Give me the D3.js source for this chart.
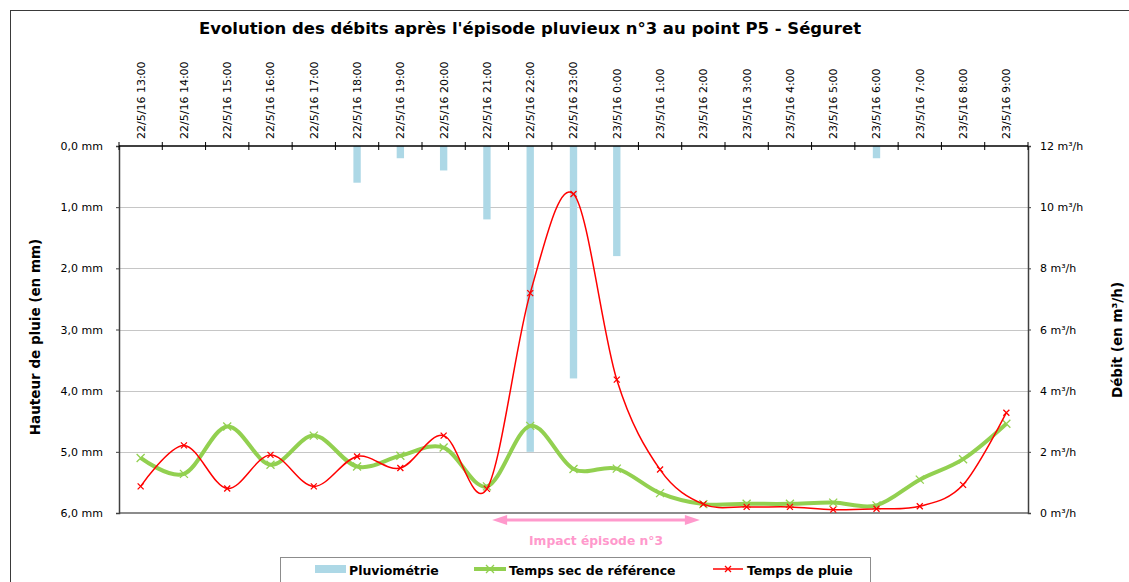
<!DOCTYPE html>
<html>
<head>
<meta charset="utf-8">
<script src="https://cdn.jsdelivr.net/npm/d3@7"></script>
<style>
  html, body { margin: 0; padding: 0; background: #fff; }
  svg { display: block; font-family: "DejaVu Sans", Verdana, sans-serif; }
</style>
</head>
<body>
<svg id="chart" width="1129" height="582"></svg>
<script>
// Hourly timestamps (22/5/16 13:00 -> 23/5/16 9:00)
const categories = [
  "22/5/16 13:00", "22/5/16 14:00", "22/5/16 15:00", "22/5/16 16:00", "22/5/16 17:00",
  "22/5/16 18:00", "22/5/16 19:00", "22/5/16 20:00", "22/5/16 21:00", "22/5/16 22:00",
  "22/5/16 23:00", "23/5/16 0:00", "23/5/16 1:00", "23/5/16 2:00", "23/5/16 3:00",
  "23/5/16 4:00", "23/5/16 5:00", "23/5/16 6:00", "23/5/16 7:00", "23/5/16 8:00",
  "23/5/16 9:00"
];
// Rainfall per hour (mm)
const pluviometrie = [0, 0, 0, 0, 0, 0.6, 0.2, 0.4, 1.2, 5.0, 3.8, 1.8, 0, 0, 0, 0, 0, 0.2, 0, 0, 0];
// Dry-weather reference flow (m³/h)
const tempsSec = [1.80, 1.28, 2.83, 1.58, 2.53, 1.52, 1.87, 2.14, 0.87, 2.85, 1.44, 1.45, 0.65, 0.29, 0.30, 0.30, 0.34, 0.25, 1.09, 1.76, 2.92];
// Wet-weather flow (m³/h)
const tempsPluie = [0.87, 2.21, 0.80, 1.90, 0.87, 1.85, 1.47, 2.53, 0.79, 7.19, 10.43, 4.36, 1.42, 0.29, 0.20, 0.20, 0.11, 0.14, 0.22, 0.92, 3.28];
// Axis ticks
const rainTicks = [0, 1, 2, 3, 4, 5, 6];
const flowTicks = [0, 2, 4, 6, 8, 10, 12];

const svg = d3.select("#chart");
const plotLeft = 119, plotRight = 1028, plotTop = 146, plotBottom = 513;

// Outer chart frame
svg.append("rect")
  .attr("x", 10.5).attr("y", 10.5).attr("width", 1140).attr("height", 600)
  .attr("fill", "#fff").attr("stroke", "#3a3a3a").attr("stroke-width", 1);

const x = d3.scaleBand().domain(categories).range([plotLeft, plotRight]).padding(0);
const cx = d => x(d) + x.bandwidth() / 2;
const yRain = d3.scaleLinear().domain([0, 6]).range([plotTop, plotBottom]);
const yFlow = d3.scaleLinear().domain([0, 12]).range([plotBottom, plotTop]);

// Title
svg.append("text")
  .attr("x", 530).attr("y", 34)
  .attr("text-anchor", "middle")
  .attr("font-weight", "bold").attr("font-size", 16.5)
  .attr("textLength", 662).attr("lengthAdjust", "spacingAndGlyphs")
  .text("Evolution des débits après l'épisode pluvieux n°3 au point P5 - Séguret");

// Horizontal gridlines
svg.append("g").selectAll("line")
  .data(rainTicks.filter(t => t > 0 && t < 6))
  .join("line")
  .attr("x1", plotLeft).attr("x2", plotRight)
  .attr("y1", d => Math.round(yRain(d)) + 0.5).attr("y2", d => Math.round(yRain(d)) + 0.5)
  .attr("stroke", "#c6c6c6").attr("stroke-width", 1);

// Rainfall bars hanging from the top axis
const barW = x.bandwidth() * 0.17;
svg.append("g").selectAll("rect")
  .data(categories.map((c, i) => ({ c, v: pluviometrie[i] })).filter(d => d.v > 0))
  .join("rect")
  .attr("x", d => cx(d.c) - barW / 2)
  .attr("y", yRain(0))
  .attr("width", barW)
  .attr("height", d => yRain(d.v) - yRain(0))
  .attr("fill", "#add8e6");

// Bottom baseline
svg.append("line")
  .attr("x1", plotLeft).attr("x2", plotRight).attr("y1", plotBottom).attr("y2", plotBottom)
  .attr("stroke", "#8c8c8c").attr("stroke-width", 2);

// Left axis (rain, reversed)
const axL = svg.append("g").attr("transform", `translate(${plotLeft},0)`)
  .call(d3.axisLeft(yRain).tickValues(rainTicks).tickSize(3).tickPadding(13)
    .tickFormat(d => d.toFixed(1).replace(".", ",") + " mm"));
axL.select(".domain").attr("stroke", "#404040").attr("stroke-width", 1.5);
axL.selectAll(".tick line").attr("stroke", "#404040");
axL.selectAll("text").attr("font-size", 11).attr("fill", "#000").attr("font-family", "DejaVu Sans");

// Right axis (flow)
const axR = svg.append("g").attr("transform", `translate(${plotRight},0)`)
  .call(d3.axisRight(yFlow).tickValues(flowTicks).tickSize(3).tickPadding(9)
    .tickFormat(d => d + " m³/h"));
axR.select(".domain").attr("stroke", "#404040").attr("stroke-width", 1.5);
axR.selectAll(".tick line").attr("stroke", "#404040");
axR.selectAll("text").attr("font-size", 11).attr("fill", "#000").attr("font-family", "DejaVu Sans");

// Top category axis: labels at band centres, ticks at band boundaries
const axT = svg.append("g").attr("transform", `translate(0,${plotTop})`)
  .call(d3.axisTop(x).tickSize(0).tickPadding(0));
axT.select(".domain").remove();
axT.selectAll("text")
  .attr("transform", "rotate(-90)")
  .attr("x", 7).attr("y", 0).attr("dy", "0.36em")
  .attr("text-anchor", "start")
  .attr("font-size", 11).attr("fill", "#000").attr("font-family", "DejaVu Sans");
svg.append("line")
  .attr("x1", plotLeft).attr("x2", plotRight).attr("y1", plotTop).attr("y2", plotTop)
  .attr("stroke", "#000").attr("stroke-width", 1.5);
const boundaries = categories.map(c => x(c)).concat([plotRight]);
svg.append("g").selectAll("line")
  .data(boundaries)
  .join("line")
  .attr("x1", d => d).attr("x2", d => d)
  .attr("y1", plotTop - 4).attr("y2", plotTop + 4)
  .attr("stroke", "#000").attr("stroke-width", 1);

// Smoothed flow lines
const line = d3.line()
  .x(d => cx(d.c))
  .y(d => yFlow(d.v))
  .curve(d3.curveCardinal.tension(0));

const sec = categories.map((c, i) => ({ c, v: tempsSec[i] }));
const pluie = categories.map((c, i) => ({ c, v: tempsPluie[i] }));

function cross(g, data, size, color, width) {
  g.selectAll("path.m").data(data).join("path")
    .attr("class", "m")
    .attr("d", d => {
      const px = cx(d.c), py = yFlow(d.v), s = size / 2;
      return `M${px - s},${py - s}L${px + s},${py + s}M${px - s},${py + s}L${px + s},${py - s}`;
    })
    .attr("stroke", color).attr("stroke-width", width).attr("fill", "none");
}

const gSec = svg.append("g");
gSec.append("path").datum(sec).attr("d", line)
  .attr("fill", "none").attr("stroke", "#92d050").attr("stroke-width", 4)
  .attr("stroke-linejoin", "round");
cross(gSec, sec, 8, "#92d050", 1.3);

const gPluie = svg.append("g");
gPluie.append("path").datum(pluie).attr("d", line)
  .attr("fill", "none").attr("stroke", "#ff0000").attr("stroke-width", 1.5);
cross(gPluie, pluie, 6, "#ff0000", 1.3);

// Impact period annotation (22:00 -> 2:00)
const impactStart = x("22/5/16 21:00") + x.bandwidth() * 0.62;
const impactEnd = x("23/5/16 2:00") + x.bandwidth() * 0.42;
const ay = 520;
const pink = "#ff99cc";
svg.append("line")
  .attr("x1", impactStart + 12).attr("x2", impactEnd - 12)
  .attr("y1", ay).attr("y2", ay)
  .attr("stroke", pink).attr("stroke-width", 3);
svg.append("path")
  .attr("d", `M${impactStart},${ay}L${impactStart + 15},${ay - 5}L${impactStart + 15},${ay + 5}Z`)
  .attr("fill", pink);
svg.append("path")
  .attr("d", `M${impactEnd},${ay}L${impactEnd - 15},${ay - 5}L${impactEnd - 15},${ay + 5}Z`)
  .attr("fill", pink);
svg.append("text")
  .attr("x", (impactStart + impactEnd) / 2).attr("y", 545)
  .attr("text-anchor", "middle")
  .attr("font-weight", "bold").attr("font-size", 12.3)
  .attr("fill", pink)
  .text("Impact épisode n°3");

// Axis titles
svg.append("text")
  .attr("transform", "translate(40,337) rotate(-90)")
  .attr("text-anchor", "middle")
  .attr("font-weight", "bold").attr("font-size", 13.5)
  .text("Hauteur de pluie (en mm)");
svg.append("text")
  .attr("transform", "translate(1122,340) rotate(-90)")
  .attr("text-anchor", "middle")
  .attr("font-weight", "bold").attr("font-size", 13.5)
  .text("Débit (en m³/h)");

// Legend
const lg = svg.append("g");
lg.append("rect")
  .attr("x", 280.5).attr("y", 557.5).attr("width", 590).attr("height", 40)
  .attr("fill", "#fff").attr("stroke", "#8c8c8c");
lg.append("rect").attr("x", 315).attr("y", 565).attr("width", 31).attr("height", 8).attr("fill", "#add8e6");
lg.append("text").attr("x", 349).attr("y", 574.5).attr("font-weight", "bold").attr("font-size", 12.5).text("Pluviométrie");
lg.append("line").attr("x1", 474).attr("x2", 506).attr("y1", 569).attr("y2", 569)
  .attr("stroke", "#92d050").attr("stroke-width", 4);
lg.append("path").attr("d", "M486,565L494,573M486,573L494,565").attr("stroke", "#92d050").attr("stroke-width", 1.3);
lg.append("text").attr("x", 509).attr("y", 574.5).attr("font-weight", "bold").attr("font-size", 12.5).text("Temps sec de référence");
lg.append("line").attr("x1", 713).attr("x2", 743).attr("y1", 569).attr("y2", 569)
  .attr("stroke", "#ff0000").attr("stroke-width", 1.5);
lg.append("path").attr("d", "M725,566L731,572M725,572L731,566").attr("stroke", "#ff0000").attr("stroke-width", 1.3);
lg.append("text").attr("x", 747).attr("y", 574.5).attr("font-weight", "bold").attr("font-size", 12.5).text("Temps de pluie");
</script>
</body>
</html>
